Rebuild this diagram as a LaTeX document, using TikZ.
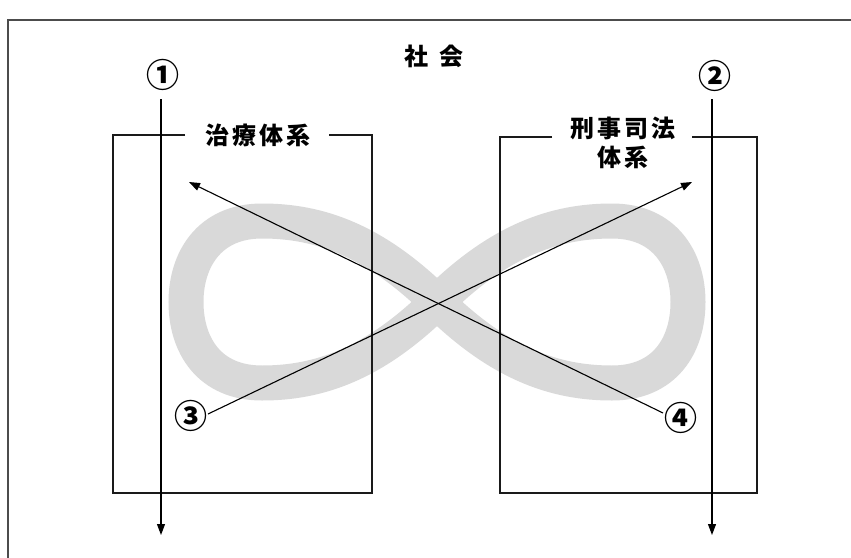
\documentclass[tikz,border=0pt]{standalone}
\usepackage{fontspec}
\usetikzlibrary{arrows.meta}
\newfontfamily\jp{Noto Sans CJK JP}[LetterSpace=12]
\newfontfamily\jpnum{Noto Sans CJK JP}
\definecolor{band}{HTML}{D9D9D9}
\definecolor{ink}{HTML}{1A1A1A}
\begin{document}
\begin{tikzpicture}[x=1pt,y=-1pt,
  boxline/.style={draw=ink,line width=1.4pt},
  flow/.style={draw=black,line width=1.1pt,-{Triangle[length=11pt,width=8pt]}},
  lbl/.style={font=\jp\bfseries\fontsize{24}{29}\selectfont,inner sep=0pt,align=center},
  num/.style={font=\jpnum\bfseries\fontsize{33}{36}\selectfont,inner sep=0pt}]
\useasboundingbox (0,0) rectangle (851,557);
\fill[white] (0,0) rectangle (851,557);
\begin{scope}
\clip (0,0) rectangle (851,557);
\draw[draw=black!70,line width=1.5pt] (8,20) rectangle (870,580);
\end{scope}
% infinity band
\draw[band,line width=35pt]
  (437,302) .. controls (500,240) and (555,221) .. (612,221)
  .. controls (665,221) and (688,260) .. (688,302)
  .. controls (688,345) and (665,383) .. (612,383)
  .. controls (555,383) and (500,364) .. (437,302)
  .. controls (374,240) and (319,221) .. (262,221)
  .. controls (209,221) and (186,260) .. (186,302)
  .. controls (186,345) and (209,383) .. (262,383)
  .. controls (319,383) and (374,364) .. (437,302) -- cycle;
% labels
\node[lbl] (soc) at (434,56) {社\hspace{11pt}会};
\node[lbl] (tre) at (258,135) {治療体系};
\node[lbl] (cri) at (623,143) {刑事司法\\体系};
% boxes
\coordinate (l1) at (185,135); \coordinate (l2) at (113,135);
\coordinate (l3) at (113,493); \coordinate (l4) at (372,493);
\coordinate (l5) at (372,135); \coordinate (l6) at (329,135);
\draw[boxline] (l1) -- (l2) -- (l3) -- (l4) -- (l5) -- (l6);
\coordinate (r1) at (552,137); \coordinate (r2) at (500,137);
\coordinate (r3) at (500,493); \coordinate (r4) at (757,493);
\coordinate (r5) at (757,137); \coordinate (r6) at (692,137);
\draw[boxline] (r1) -- (r2) -- (r3) -- (r4) -- (r5) -- (r6);
% numbers
\node[num] (n1) at (163,75) {①};
\node[num] (n2) at (715,76) {②};
\node[num] (n3) at (191,416) {③};
\node[num] (n4) at (681,418) {④};
% arrows
\coordinate (a1s) at (161,99); \coordinate (a1e) at (161,535);
\coordinate (a2s) at (712,99); \coordinate (a2e) at (712,535);
\coordinate (a3e) at (692,182); \coordinate (a4e) at (189,182);
\draw[flow] (208,414) -- (a3e);
\draw[flow] (663,413) -- (a4e);
\draw[flow] (a1s) -- (a1e);
\draw[flow] (a2s) -- (a2e);
\end{tikzpicture}
\end{document}
